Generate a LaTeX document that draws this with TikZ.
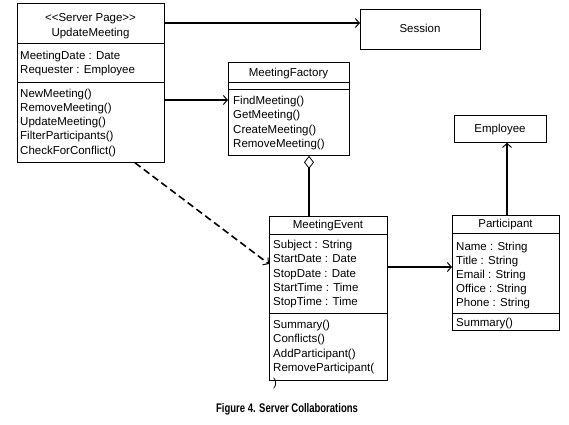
\documentclass[tikz,border=0pt]{standalone}
\usepackage{fontspec}
\setmainfont{Liberation Sans}
\usetikzlibrary{arrows.meta}
\begin{document}
\begin{tikzpicture}[x=1pt,y=-1pt,
  box/.style={draw, line width=0.8pt, anchor=north west, inner sep=0pt},
  txt/.style={font=\fontsize{11.5}{13}\selectfont, anchor=base west, inner sep=0pt},
  ctxt/.style={font=\fontsize{11.5}{13}\selectfont, anchor=base, inner sep=0pt},
  divider/.style={line width=0.8pt},
  conn/.style={line width=1.6pt},
  barb/.style={-{Straight Barb[length=4pt,width=9pt,line width=1pt]}}
]
\useasboundingbox (0,0) rectangle (569,424);

% UpdateMeeting
\node[box, minimum width=147pt, minimum height=159pt] (um) at (17,3) {};
\draw[divider] (17,43) -- (164,43);
\draw[divider] (17,82) -- (164,82);
\node[ctxt] (um1) at (90.5,21) {{<}{<}Server Page{>}{>}};
\node[ctxt] (um2) at (90.5,36) {UpdateMeeting};
\node[txt] (um3) at (20,59) {MeetingDate : Date};
\node[txt] (um4) at (20,73) {Requester : Employee};
\node[txt] (um5) at (20,97) {NewMeeting()};
\node[txt] (um6) at (20,111) {RemoveMeeting()};
\node[txt] (um7) at (20,125) {UpdateMeeting()};
\node[txt] (um8) at (20,139) {FilterParticipants()};
\node[txt] (um9) at (20,154) {CheckForConflict()};

% Session
\node[box, minimum width=120pt, minimum height=40pt] (se) at (360,9) {};
\node[ctxt] (se1) at (420,32) {Session};

% MeetingFactory
\node[box, minimum width=121pt, minimum height=93pt] (mf) at (228,62) {};
\draw[divider] (228,82) -- (349,82);
\draw[divider] (228,89) -- (349,89);
\node[ctxt] (mf1) at (288.5,76) {MeetingFactory};
\node[txt] (mf2) at (233,104) {FindMeeting()};
\node[txt] (mf3) at (233,118) {GetMeeting()};
\node[txt] (mf4) at (233,133) {CreateMeeting()};
\node[txt] (mf5) at (233,147) {RemoveMeeting()};

% MeetingEvent
\node[box, minimum width=118pt, minimum height=164pt] (me) at (269,216) {};
\draw[divider] (269,234) -- (387,234);
\draw[divider] (269,313) -- (387,313);
\node[ctxt] (me1) at (328,228) {MeetingEvent};
\node[txt] (me2) at (273,248) {Subject : String};
\node[txt] (me3) at (273,262) {StartDate : Date};
\node[txt] (me4) at (273,277) {StopDate : Date};
\node[txt] (me5) at (273,291) {StartTime : Time};
\node[txt] (me6) at (273,305) {StopTime : Time};
\node[txt] (me7) at (273,328) {Summary()};
\node[txt] (me8) at (273,342) {Conflicts()};
\node[txt] (me9) at (273,357) {AddParticipant()};
\node[txt] (me10) at (273,371) {RemoveParticipant(};
\node[txt] (me11) at (273,386) {)};

% Participant
\node[box, minimum width=107pt, minimum height=115pt] (pa) at (452,215) {};
\draw[divider] (452,233) -- (559,233);
\draw[divider] (452,313) -- (559,313);
\node[ctxt] (pa1) at (505.5,227) {Participant};
\node[txt] (pa2) at (456,250) {Name : String};
\node[txt] (pa3) at (456,264) {Title : String};
\node[txt] (pa4) at (456,278) {Email : String};
\node[txt] (pa5) at (456,292) {Office : String};
\node[txt] (pa6) at (456,306) {Phone : String};
\node[txt] (pa7) at (456,326) {Summary()};

% Employee
\node[box, minimum width=92pt, minimum height=27pt] (em) at (454,115) {};
\node[ctxt] (em1) at (500,132) {Employee};

% Connectors
\draw[conn,barb] (um.east |- 0,23) -- (se.west |- 0,23);
\draw[conn,barb] (um.east |- 0,100) -- (mf.west |- 0,100);
\draw[conn,barb,dash pattern=on 7pt off 4pt] (um.south -| 135,0) -- (me.west |- 0,264);
\draw[conn,{Diamond[open,length=13pt,width=10pt,line width=0.8pt]}-] (mf.south -| 309,0) -- (me.north -| 309,0);
\draw[conn,barb] (me.east |- 0,267) -- (pa.west |- 0,267);
\draw[conn,barb] (pa.north -| 507,0) -- (em.south -| 507,0);

% Caption
\node[font=\bfseries\fontsize{12.5}{14}\selectfont, inner sep=0pt, xscale=0.76] (cap) at (287,409) {Figure 4. Server Collaborations};
\end{tikzpicture}
\end{document}
